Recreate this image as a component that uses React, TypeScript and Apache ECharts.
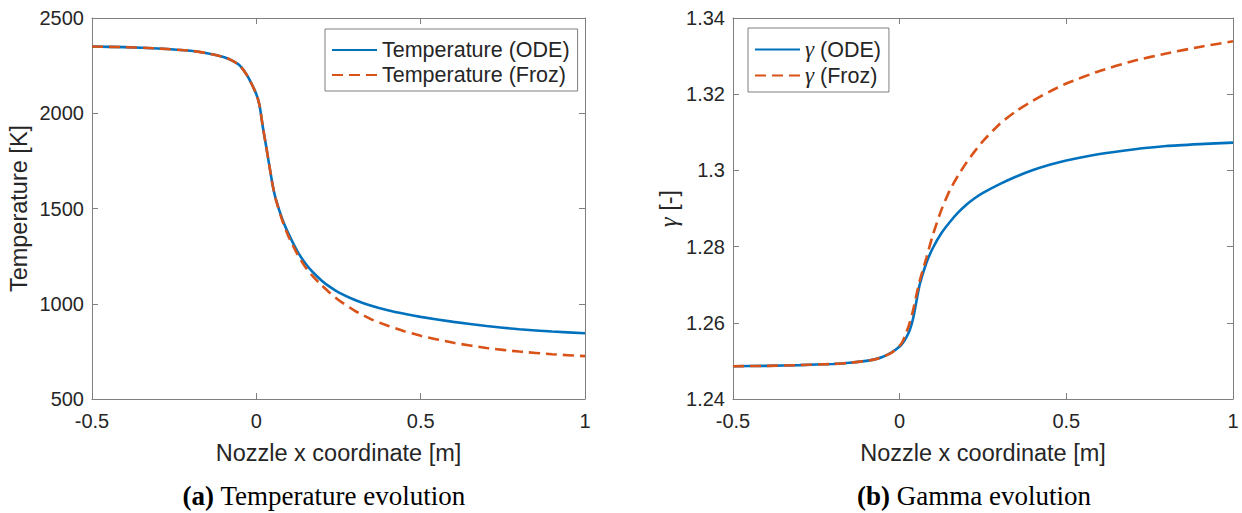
import React, { useEffect, useRef } from "react";
import * as echarts from "echarts";

const xGrid = [-0.5, -0.4, -0.3, -0.2, -0.15, -0.1, -0.075, -0.05, -0.025, 0, 0.01, 0.02, 0.03, 0.04, 0.05, 0.06, 0.08, 0.1, 0.125, 0.15, 0.175, 0.2, 0.225, 0.25, 0.3, 0.35, 0.4, 0.45, 0.5, 0.6, 0.7, 0.8, 0.9, 1.0];

const tempODE = [2350, 2347, 2340, 2328, 2315, 2295, 2278, 2250, 2190, 2100, 2040, 1925, 1825, 1720, 1620, 1545, 1440, 1360, 1275, 1210, 1160, 1120, 1087, 1060, 1020, 990, 966, 947, 931, 905, 883, 866, 854, 845];
const tempFroz = [2350, 2347, 2340, 2328, 2315, 2295, 2278, 2250, 2190, 2100, 2040, 1925, 1825, 1720, 1620, 1543, 1432, 1345, 1260, 1190, 1138, 1095, 1055, 1020, 963, 918, 885, 856, 832, 795, 768, 749, 735, 725];

const gammaODE = [1.2486, 1.2487, 1.2489, 1.2492, 1.2495, 1.25, 1.2504, 1.2511, 1.2522, 1.2538, 1.2548, 1.2562, 1.258, 1.261, 1.2655, 1.27, 1.2757, 1.2797, 1.2835, 1.2864, 1.2889, 1.291, 1.2927, 1.2941, 1.2964, 1.2984, 1.3001, 1.3015, 1.3026, 1.3043, 1.3055, 1.3064, 1.3069, 1.3073];
const gammaFroz = [1.2486, 1.2487, 1.2489, 1.2492, 1.2495, 1.25, 1.2504, 1.2511, 1.2521, 1.254, 1.2553, 1.2575, 1.26, 1.2632, 1.2672, 1.271, 1.277, 1.2832, 1.2896, 1.2947, 1.2986, 1.302, 1.305, 1.3077, 1.3122, 1.3156, 1.3183, 1.3207, 1.3228, 1.3261, 1.3287, 1.3307, 1.3324, 1.3339];

const xTicks = { min: -0.5, max: 1, interval: 0.5 };
const tempTicks = { min: 500, max: 2500, interval: 500 };
const gammaTicks = { min: 1.24, max: 1.34, interval: 0.02 };

const names = {
  tODE: "Temperature (ODE)",
  tFroz: "Temperature (Froz)",
  gODE: "γ (ODE)",
  gFroz: "γ (Froz)",
};
const captions = [
  { tag: "(a)", text: " Temperature evolution" },
  { tag: "(b)", text: " Gamma evolution" },
];

const BLUE = "#0072BD";
const ORANGE = "#D95319";
const AXIS = "#7f7f7f";
const TEXT = "#262626";
const SANS = "'Liberation Sans', Arial, Helvetica, sans-serif";
const SERIF = "'Liberation Serif', 'Times New Roman', serif";

const pair = (xs: number[], ys: number[]) => xs.map((x, i) => [x, ys[i]]);
const plain = (v: number) => String(Math.round(v * 1e6) / 1e6);

export default function App() {
  const ref = useRef<HTMLDivElement>(null);
  useEffect(() => {
    if (!ref.current) return;
    const chart = echarts.init(ref.current, undefined, { renderer: "svg" });

    const baseAxis = {
      type: "value" as const,
      axisLine: { show: true, onZero: false, lineStyle: { color: AXIS, width: 1 } },
      axisTick: { show: true, inside: true, length: 6, lineStyle: { color: AXIS } },
      splitLine: { show: false },
    };
    const labelStyle = { color: TEXT, fontSize: 20, fontFamily: SANS, formatter: plain };
    const nameStyle = { color: TEXT, fontSize: 23.5, fontFamily: SANS };

    const mkX = (grid: number, bottom: boolean) => ({
      ...baseAxis,
      gridIndex: grid,
      position: bottom ? "bottom" : "top",
      ...xTicks,
      axisLabel: bottom ? { ...labelStyle, margin: 12 } : { show: false },
      name: bottom ? "Nozzle x coordinate [m]" : "",
      nameLocation: "middle",
      nameGap: 42,
      nameTextStyle: nameStyle,
    });
    const mkY = (grid: number, left: boolean, ticks: any, name: string, gap: number) => ({
      ...baseAxis,
      gridIndex: grid,
      position: left ? "left" : "right",
      ...ticks,
      axisLabel: left ? { ...labelStyle, margin: 8 } : { show: false },
      name: left ? name : "",
      nameLocation: "middle",
      nameGap: gap,
      nameTextStyle: {
        ...nameStyle,
        rich: {
          g: { fontFamily: SERIF, fontStyle: "italic", fontSize: 25, color: TEXT },
        },
      },
    });

    const gFmt = (n: string) => n.replace("γ", "{g|γ}");

    const lineSeries = (name: string, data: number[][], idx: number, dashed: boolean) => ({
      type: "line",
      name,
      xAxisIndex: idx * 2,
      yAxisIndex: idx * 2,
      data,
      showSymbol: false,
      symbol: "none",
      smooth: 0.2,
      lineStyle: {
        color: dashed ? ORANGE : BLUE,
        width: 2.6,
        type: dashed ? [11, 6] : "solid",
      },
      itemStyle: { color: dashed ? ORANGE : BLUE },
      z: dashed ? 3 : 2,
    });

    const legendBase = {
      orient: "vertical",
      backgroundColor: "#fff",
      borderColor: AXIS,
      borderWidth: 1,
      borderRadius: 0,
      itemWidth: 45,
      itemHeight: 14,
      itemGap: 3,
      padding: [10, 8, 5, 6],
      itemStyle: { opacity: 0 },
      textStyle: {
        color: TEXT,
        fontSize: 21.5,
        fontFamily: SANS,
        rich: { g: { fontFamily: SERIF, fontStyle: "italic", fontSize: 23, color: TEXT } },
      },
      selectedMode: false,
    };

    chart.setOption({
      animation: false,
      backgroundColor: "#fff",
      grid: [
        { left: 92, right: 1242 - 585, top: 18, bottom: 513 - 399 },
        { left: 733, right: 1242 - 1233, top: 18, bottom: 513 - 399 },
      ],
      xAxis: [mkX(0, true), mkX(0, false), mkX(1, true), mkX(1, false)],
      yAxis: [
        mkY(0, true, tempTicks, "Temperature [K]", 61),
        mkY(0, false, tempTicks, "", 0),
        mkY(1, true, gammaTicks, "{g|γ} [-]", 52),
        mkY(1, false, gammaTicks, "", 0),
      ],
      legend: [
        {
          ...legendBase,
          left: 325,
          top: 29,
          data: [names.tODE, names.tFroz],
        },
        {
          ...legendBase,
          left: 748,
          top: 28,
          data: [names.gODE, names.gFroz],
          formatter: gFmt,
        },
      ],
      series: [
        lineSeries(names.tODE, pair(xGrid, tempODE), 0, false),
        lineSeries(names.tFroz, pair(xGrid, tempFroz), 0, true),
        lineSeries(names.gODE, pair(xGrid, gammaODE), 1, false),
        lineSeries(names.gFroz, pair(xGrid, gammaFroz), 1, true),
      ],
      graphic: captions.map((c, i) => ({
        type: "text",
        x: i === 0 ? 324 : 974,
        y: 496,
        style: {
          text: `{b|${c.tag}}{n|${c.text}}`,
          align: "center",
          verticalAlign: "middle",
          fill: "#000",
          rich: {
            b: { fontFamily: SERIF, fontWeight: "bold", fontSize: 27, fill: "#000" },
            n: { fontFamily: SERIF, fontSize: 27, fill: "#000" },
          },
        },
      })),
    });
    return () => chart.dispose();
  }, []);
  return (
    <div
      ref={ref}
      style={{ position: "absolute", left: 0, top: 0, width: 1242, height: 513, background: "#fff" }}
    />
  );
}
